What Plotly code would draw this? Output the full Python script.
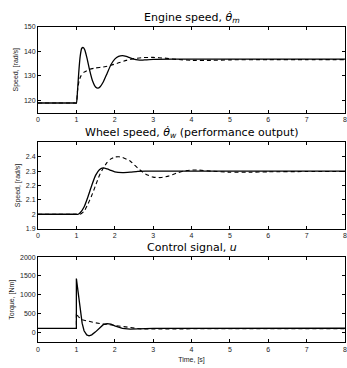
import plotly.graph_objects as go

# Engine speed
eng_solid_t = [0, 0.5, 0.9, 0.97, 1.0, 1.03, 1.06, 1.1, 1.14, 1.18, 1.22, 1.28, 1.35, 1.42, 1.5, 1.56, 1.62, 1.7, 1.8, 1.9, 2.0, 2.1, 2.2, 2.3, 2.4, 2.5, 2.6, 2.7, 2.8, 3.0, 3.5, 5, 6.5, 8]
eng_solid_y = [119, 119, 119, 119, 119, 124, 131, 138, 141.2, 141.5, 140.5, 137, 132, 128, 125.5, 125, 125.6, 127.5, 131, 134.5, 136.8, 137.9, 138.2, 137.9, 137.3, 136.8, 136.5, 136.4, 136.5, 136.7, 136.8, 136.8, 136.8, 136.8]
eng_dash_t = [0, 0.5, 0.9, 0.97, 1.0, 1.03, 1.07, 1.12, 1.2, 1.35, 1.5, 1.7, 1.9, 2.1, 2.3, 2.5, 2.7, 3.0, 3.3, 3.6, 4.0, 4.5, 5, 6, 7, 8]
eng_dash_y = [119, 119, 119, 119, 119, 124, 128, 130, 131.5, 132.7, 133.2, 133.6, 134.3, 135.3, 136.3, 137, 137.4, 137.5, 137.2, 136.7, 136.3, 136.3, 136.5, 136.6, 136.6, 136.6]

# Wheel speed
wh_solid_t = [0, 0.5, 0.9, 1.0, 1.05, 1.1, 1.2, 1.3, 1.4, 1.5, 1.6, 1.7, 1.8, 1.9, 2.0, 2.2, 2.4, 2.6, 2.8, 4, 6, 8]
wh_solid_y = [2.0, 2.0, 2.0, 2.0, 2.0, 2.01, 2.05, 2.12, 2.2, 2.27, 2.31, 2.322, 2.315, 2.305, 2.295, 2.29, 2.293, 2.298, 2.30, 2.30, 2.30, 2.30]
wh_dash_t = [0, 0.5, 0.9, 1.0, 1.1, 1.2, 1.3, 1.4, 1.5, 1.6, 1.7, 1.8, 1.9, 2.0, 2.1, 2.2, 2.4, 2.6, 2.8, 3.0, 3.2, 3.4, 3.6, 3.8, 4.0, 4.2, 4.5, 5, 5.5, 6, 7, 8]
wh_dash_y = [2.0, 2.0, 2.0, 2.0, 2.0, 2.02, 2.07, 2.13, 2.2, 2.27, 2.32, 2.36, 2.385, 2.398, 2.40, 2.395, 2.37, 2.32, 2.28, 2.258, 2.255, 2.265, 2.285, 2.30, 2.307, 2.307, 2.30, 2.292, 2.292, 2.295, 2.297, 2.297]

# Control signal
u_solid_t = [0, 1.0, 1.0, 1.05, 1.1, 1.15, 1.2, 1.27, 1.33, 1.4, 1.5, 1.6, 1.7, 1.8, 1.9, 2.0, 2.1, 2.2, 2.4, 2.6, 3, 8]
u_solid_y = [110, 110, 1430, 1000, 600, 250, 50, -60, -85, -60, 20, 120, 210, 240, 225, 180, 140, 110, 95, 100, 110, 115]
u_dash_t = [0, 1.0, 1.0, 1.05, 1.15, 1.3, 1.5, 1.7, 1.9, 2.1, 2.3, 2.5, 2.7, 3, 3.5, 8]
u_dash_y = [110, 110, 520, 420, 340, 300, 260, 230, 200, 170, 140, 110, 95, 95, 100, 105]

x_ticks = [0, 1, 2, 3, 4, 5, 6, 7, 8]

fig = go.Figure()
line_solid = dict(color="black", width=1.3)
line_dash = dict(color="black", width=1.1, dash="4px,3px")
sp_solid = dict(line_solid, shape="spline", smoothing=0.5)
sp_dash = dict(line_dash, shape="spline", smoothing=0.5)

fig.add_trace(go.Scatter(x=eng_solid_t, y=eng_solid_y, mode="lines", line=sp_solid, xaxis="x", yaxis="y"))
fig.add_trace(go.Scatter(x=eng_dash_t, y=eng_dash_y, mode="lines", line=sp_dash, xaxis="x", yaxis="y"))
fig.add_trace(go.Scatter(x=wh_solid_t, y=wh_solid_y, mode="lines", line=sp_solid, xaxis="x2", yaxis="y2"))
fig.add_trace(go.Scatter(x=wh_dash_t, y=wh_dash_y, mode="lines", line=sp_dash, xaxis="x2", yaxis="y2"))
fig.add_trace(go.Scatter(x=u_solid_t, y=u_solid_y, mode="lines", line=line_solid, xaxis="x3", yaxis="y3"))
fig.add_trace(go.Scatter(x=u_dash_t, y=u_dash_y, mode="lines", line=line_dash, xaxis="x3", yaxis="y3"))

H = 368.0
def dom(top, bottom):
    return [1 - bottom / H, 1 - top / H]

tickfont = dict(family="Liberation Sans, Arial, sans-serif", size=7, color="#222")
common_x = dict(range=[0, 8], tickvals=x_ticks, showline=True, linecolor="black", linewidth=1,
                mirror="ticks", ticks="inside", ticklen=3, tickcolor="black", showgrid=False,
                zeroline=False, tickfont=tickfont, domain=[0, 1], ticklabeloverflow="allow")
common_y = dict(showline=True, linecolor="black", linewidth=1, mirror="ticks", ticks="inside",
                ticklen=3, tickcolor="black", showgrid=False, zeroline=False, tickfont=tickfont,
                ticklabeloverflow="allow")
ytitle_font = dict(family="Liberation Sans, Arial, sans-serif", size=7, color="#222")

fig.update_layout(
    width=347, height=368,
    margin=dict(l=38, r=2, t=0, b=0),
    paper_bgcolor="white", plot_bgcolor="white",
    showlegend=False,
    xaxis=dict(common_x, anchor="y"),
    yaxis=dict(common_y, range=[115, 150], tickvals=[120, 130, 140, 150], domain=dom(23, 111),
               anchor="x", title=dict(text="Speed, [rad/s]", font=ytitle_font, standoff=4)),
    xaxis2=dict(common_x, anchor="y2"),
    yaxis2=dict(common_y, range=[1.9, 2.5], tickvals=[1.9, 2.0, 2.1, 2.2, 2.3, 2.4],
                ticktext=["1.9", "2", "2.1", "2.2", "2.3", "2.4"], domain=dom(141, 229),
                anchor="x2", title=dict(text="Speed, [rad/s]", font=ytitle_font, standoff=4)),
    xaxis3=dict(common_x, anchor="y3", title=dict(text="Time, [s]", font=ytitle_font, standoff=5)),
    yaxis3=dict(common_y, range=[-260, 2000], tickvals=[0, 500, 1000, 1500, 2000], domain=dom(258, 345),
                anchor="x3", title=dict(text="Torque, [Nm]", font=ytitle_font, standoff=4)),
)

title_font = dict(family="DejaVu Sans, sans-serif", size=11, color="black")
titles = [
    ("Engine speed, <i>θ\u0307</i><sub><i>m</i></sub>", 14),
    ("Wheel speed, <i>θ\u0307</i><sub><i>w</i></sub> (performance output)", 131),
    ("Control signal, <i>u</i>", 248),
]
for txt, ypx in titles:
    fig.add_annotation(text=txt, xref="paper", yref="paper", x=0.5, y=1 - ypx / H,
                       xanchor="center", yanchor="middle", showarrow=False, font=title_font)

fig.write_html("out.html", config={"displayModeBar": False},
               post_script="document.body.style.margin='0';document.body.style.overflow='hidden';")
